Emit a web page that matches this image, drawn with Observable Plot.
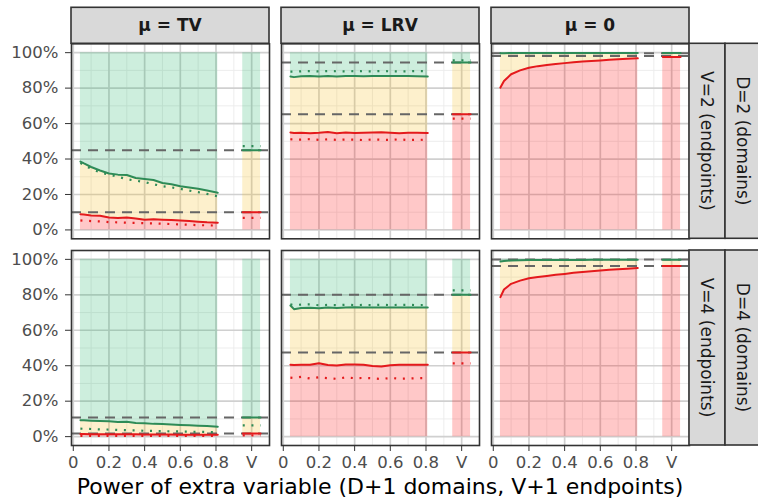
<!DOCTYPE html>
<html><head><meta charset="utf-8">
<script src="https://cdn.jsdelivr.net/npm/d3@7"></script>
<script src="https://cdn.jsdelivr.net/npm/@observablehq/plot@0.6"></script>
<style>body{margin:0;background:#fff} #chart{width:758px;height:499px;overflow:hidden}</style>
</head><body><div id="chart"></div>
<script>
// ---- categories & labels ----
const muLevels = ["TV", "LRV", "0"];
const muLabels = ["μ = TV", "μ = LRV", "μ = 0"];
const dLevels = [2, 4];
const rowLabelsV = ["V=2 (endpoints)", "V=4 (endpoints)"];
const rowLabelsD = ["D=2 (domains)", "D=4 (domains)"];
const xTitle = "Power of extra variable (D+1 domains, V+1 endpoints)";
const xTicks = [0, 0.2, 0.4, 0.6, 0.8, 1];
const xTickLabels = ["0", "0.2", "0.4", "0.6", "0.8", "V"];
const xMinor = [0.1, 0.3, 0.5, 0.7, 0.9];
const yTicks = [0, 0.2, 0.4, 0.6, 0.8, 1];
const yMinor = [0.1, 0.3, 0.5, 0.7, 0.9];

// power grid (x) of the curves, and x span of the "V" block
const powers = [0.04, 0.06, 0.1, 0.15, 0.2, 0.25, 0.3, 0.35, 0.4, 0.45, 0.5, 0.55, 0.6, 0.65, 0.7, 0.75, 0.81];
const vSpan = [0.95, 1.05];

// ---- μ = TV, D=2 ----
const tv2Green    = [0.386, 0.375, 0.355, 0.335, 0.318, 0.312, 0.310, 0.293, 0.288, 0.282, 0.265, 0.258, 0.247, 0.240, 0.232, 0.222, 0.210];
const tv2GreenDot = [0.378, 0.365, 0.345, 0.325, 0.312, 0.300, 0.286, 0.278, 0.270, 0.258, 0.246, 0.240, 0.232, 0.222, 0.213, 0.203, 0.190];
const tv2Red      = [0.088, 0.087, 0.082, 0.080, 0.070, 0.068, 0.070, 0.065, 0.058, 0.060, 0.058, 0.056, 0.053, 0.050, 0.046, 0.043, 0.041];
const tv2RedDot   = [0.054, 0.052, 0.050, 0.048, 0.044, 0.043, 0.041, 0.040, 0.038, 0.037, 0.035, 0.033, 0.031, 0.029, 0.027, 0.026, 0.024];
const tv2V   = [0.100, 0.068, 0.449, 0.473]; // red, redDot, green, greenDot
const tv2Ref = [0.449, 0.100];

// ---- μ = LRV, D=2 ----
const lrv2Green    = [0.866, 0.862, 0.867, 0.869, 0.866, 0.868, 0.866, 0.869, 0.868, 0.867, 0.868, 0.869, 0.868, 0.869, 0.868, 0.867, 0.866];
const lrv2GreenDot = [0.893, 0.893, 0.895, 0.896, 0.894, 0.896, 0.895, 0.894, 0.896, 0.895, 0.895, 0.896, 0.895, 0.894, 0.895, 0.896, 0.895];
const lrv2Red      = [0.550, 0.547, 0.548, 0.546, 0.548, 0.552, 0.546, 0.549, 0.547, 0.548, 0.550, 0.551, 0.548, 0.546, 0.548, 0.548, 0.547];
const lrv2RedDot   = [0.512, 0.509, 0.510, 0.512, 0.508, 0.511, 0.508, 0.510, 0.509, 0.507, 0.510, 0.509, 0.508, 0.511, 0.507, 0.509, 0.508];
const lrv2V   = [0.652, 0.628, 0.944, 0.957];
const lrv2Ref = [0.944, 0.652];

// ---- μ = 0, D=2 ----
const zero2Green = [0.997, 0.997, 0.998, 0.998, 0.998, 0.998, 0.998, 0.998, 0.998, 0.998, 0.998, 0.998, 0.998, 0.998, 0.998, 0.998, 0.998];
const zero2Red   = [0.803, 0.840, 0.878, 0.900, 0.915, 0.924, 0.930, 0.936, 0.941, 0.946, 0.950, 0.953, 0.956, 0.960, 0.963, 0.965, 0.968];
const zero2V   = [0.976, null, 0.998, null];
const zero2Ref = [0.996, 0.981];

// ---- μ = TV, D=4 ----
const tv4Green    = [0.093, 0.092, 0.090, 0.088, 0.087, 0.083, 0.084, 0.077, 0.076, 0.072, 0.071, 0.068, 0.066, 0.064, 0.062, 0.060, 0.056];
const tv4GreenDot = [0.045, 0.044, 0.043, 0.041, 0.040, 0.038, 0.036, 0.035, 0.033, 0.032, 0.031, 0.030, 0.029, 0.028, 0.027, 0.026, 0.025];
const tv4Red      = [0.015, 0.015, 0.014, 0.014, 0.014, 0.013, 0.013, 0.013, 0.012, 0.012, 0.012, 0.012, 0.011, 0.011, 0.011, 0.011, 0.011];
const tv4RedDot   = [0.004, 0.004, 0.004, 0.004, 0.004, 0.004, 0.004, 0.004, 0.004, 0.004, 0.004, 0.004, 0.004, 0.004, 0.004, 0.004, 0.004];
const tv4V   = [0.017, 0.007, 0.1075, 0.064];
const tv4Ref = [0.1075, 0.017];

// ---- μ = LRV, D=4 ----
const lrv4Green    = [0.740, 0.719, 0.726, 0.727, 0.724, 0.728, 0.726, 0.729, 0.730, 0.729, 0.728, 0.728, 0.729, 0.728, 0.729, 0.729, 0.729];
const lrv4GreenDot = [0.746, 0.742, 0.745, 0.746, 0.741, 0.743, 0.742, 0.744, 0.742, 0.743, 0.742, 0.744, 0.742, 0.743, 0.744, 0.742, 0.743];
const lrv4Red      = [0.406, 0.404, 0.406, 0.405, 0.414, 0.404, 0.401, 0.407, 0.407, 0.406, 0.398, 0.396, 0.403, 0.405, 0.406, 0.406, 0.406];
const lrv4RedDot   = [0.333, 0.331, 0.337, 0.328, 0.335, 0.330, 0.326, 0.334, 0.330, 0.331, 0.329, 0.325, 0.331, 0.327, 0.328, 0.330, 0.331];
const lrv4V   = [0.475, 0.413, 0.800, 0.825];
const lrv4Ref = [0.800, 0.475];

// ---- μ = 0, D=4 ----
const zero4Green = [0.988, 0.991, 0.994, 0.995, 0.996, 0.996, 0.997, 0.997, 0.997, 0.997, 0.997, 0.998, 0.998, 0.998, 0.998, 0.998, 0.998];
const zero4Red   = [0.787, 0.830, 0.862, 0.880, 0.893, 0.900, 0.906, 0.913, 0.918, 0.924, 0.929, 0.933, 0.937, 0.941, 0.944, 0.947, 0.951];
const zero4V   = [0.962, null, 0.998, null];
const zero4Ref = [0.999, 0.962];

// ---- colours ----
const redLine = "#e41a1c", greenLine = "#2e8b57", refLine = "#666666";
const redFill = "#ff0505", yellowFill = "#f6bb17", greenFill = "#1cb264", fillOp = 0.22;

// ---- build tables for the library ----
function panelRows(mu, D, red, redDot, green, greenDot, vVals) {
  const rows = powers.map((x, i) => ({
    mu, D, seg: "curve", x,
    red: red[i], redDot: redDot ? redDot[i] : null,
    green: green[i], greenDot: greenDot ? greenDot[i] : null
  }));
  for (const x of vSpan) rows.push({mu, D, seg: "V", x, red: vVals[0], redDot: vVals[1], green: vVals[2], greenDot: vVals[3]});
  return rows;
}
const rows = [
  ...panelRows("TV", 2, tv2Red, tv2RedDot, tv2Green, tv2GreenDot, tv2V),
  ...panelRows("LRV", 2, lrv2Red, lrv2RedDot, lrv2Green, lrv2GreenDot, lrv2V),
  ...panelRows("0", 2, zero2Red, null, zero2Green, null, zero2V),
  ...panelRows("TV", 4, tv4Red, tv4RedDot, tv4Green, tv4GreenDot, tv4V),
  ...panelRows("LRV", 4, lrv4Red, lrv4RedDot, lrv4Green, lrv4GreenDot, lrv4V),
  ...panelRows("0", 4, zero4Red, null, zero4Green, null, zero4V)
];
const refRows = [
  ["TV", 2, tv2Ref], ["LRV", 2, lrv2Ref], ["0", 2, zero2Ref],
  ["TV", 4, tv4Ref], ["LRV", 4, lrv4Ref], ["0", 4, zero4Ref]
].flatMap(([mu, D, r]) => r.map(v => ({mu, D, v})));
const dotRows = rows.filter(d => d.redDot != null);
const dotGreenRows = rows.filter(d => d.greenDot != null);

const F = {fx: "mu", fy: "D"};
const dotStyle = {strokeWidth: 2.2, strokeDasharray: "2,6.7", strokeLinecap: "butt", strokeLinejoin: "miter"};
const plot = Plot.plot({
  width: 758, height: 499,
  marginLeft: 71, marginRight: 69, marginTop: 43.3, marginBottom: 54,
  style: {fontFamily: "DejaVu Sans", background: "#fff"},
  fx: {domain: muLevels, axis: null, paddingInner: 12 / 210, paddingOuter: 0, round: false},
  fy: {domain: dLevels, axis: null, paddingInner: 11.7 / 206.7, paddingOuter: 0, round: false},
  x: {domain: [-0.01, 1.10]},
  y: {domain: [-0.05, 1.05]},
  marks: [
    Plot.gridX(xMinor, {stroke: "#ebebeb", strokeOpacity: 1, strokeWidth: 0.9}),
    Plot.gridY(yMinor, {stroke: "#ebebeb", strokeOpacity: 1, strokeWidth: 0.9}),
    Plot.gridX(xTicks, {stroke: "#d0d0d0", strokeOpacity: 1, strokeWidth: 1.7}),
    Plot.gridY(yTicks, {stroke: "#d0d0d0", strokeOpacity: 1, strokeWidth: 1.7}),
    Plot.areaY(rows, {...F, x: "x", y1: 0, y2: "red", z: "seg", fill: redFill, fillOpacity: fillOp}),
    Plot.areaY(rows, {...F, x: "x", y1: "red", y2: "green", z: "seg", fill: yellowFill, fillOpacity: fillOp}),
    Plot.areaY(rows, {...F, x: "x", y1: "green", y2: 1, z: "seg", fill: greenFill, fillOpacity: fillOp}),
    Plot.ruleY(refRows, {...F, y: "v", stroke: refLine, strokeWidth: 2, strokeDasharray: "10,7"}),
    Plot.lineY(dotRows, {...F, x: "x", y: "redDot", z: "seg", stroke: redLine, ...dotStyle}),
    Plot.lineY(dotGreenRows, {...F, x: "x", y: "greenDot", z: "seg", stroke: greenLine, ...dotStyle}),
    Plot.lineY(rows, {...F, x: "x", y: "red", z: "seg", stroke: redLine, strokeWidth: 2}),
    Plot.lineY(rows, {...F, x: "x", y: "green", z: "seg", stroke: greenLine, strokeWidth: 2}),
    Plot.frame({stroke: "#333333", strokeWidth: 1.6}),
    Plot.axisY({ticks: yTicks, tickFormat: d3.format(".0%"), label: null, fontSize: 16.5, tickSize: 6, tickPadding: 7, stroke: "#333333", fill: "#4d4d4d"}),
    Plot.axisX({ticks: xTicks, tickFormat: d => xTickLabels[xTicks.indexOf(d)], label: null, fontSize: 16.5, tickSize: 6, tickPadding: 5, stroke: "#333333", fill: "#4d4d4d"})
  ]
});
document.getElementById("chart").appendChild(plot);

// ---- facet strips and axis title ----
const svg = d3.select(plot);
const fx = plot.scale("fx"), fy = plot.scale("fy");
const bwX = fx.bandwidth, bwY = fy.bandwidth;
const stripH = 36;
const topY = fy.apply(dLevels[0]);
const g = svg.append("g");
muLevels.forEach((m, i) => {
  const x0 = fx.apply(m);
  g.append("rect").attr("x", x0).attr("y", topY - stripH).attr("width", bwX).attr("height", stripH)
    .attr("fill", "#d9d9d9").attr("stroke", "#333").attr("stroke-width", 1.6);
  g.append("text").attr("x", x0 + bwX / 2).attr("y", topY - stripH / 2).attr("dy", "0.35em")
    .attr("text-anchor", "middle").attr("font-weight", "bold").attr("font-size", 17).attr("fill", "#1a1a1a")
    .text(muLabels[i]);
});
const rightX = fx.apply(muLevels[muLevels.length - 1]) + bwX;
dLevels.forEach((dv, j) => {
  const y0 = fy.apply(dv);
  [rowLabelsV[j], rowLabelsD[j]].forEach((lab, k) => {
    const x0 = rightX + k * stripH;
    g.append("rect").attr("x", x0).attr("y", y0).attr("width", stripH).attr("height", bwY)
      .attr("fill", "#d9d9d9").attr("stroke", "#333").attr("stroke-width", 1.6);
    g.append("text").attr("transform", `translate(${x0 + stripH / 2},${y0 + bwY / 2}) rotate(90)`)
      .attr("dy", "0.35em").attr("text-anchor", "middle").attr("font-size", 17).attr("fill", "#1a1a1a")
      .text(lab);
  });
});
const leftX = fx.apply(muLevels[0]);
g.append("text").attr("x", (leftX + rightX) / 2).attr("y", 494).attr("text-anchor", "middle")
  .attr("font-size", 22).attr("fill", "#000").text(xTitle);
</script>
</body></html>
